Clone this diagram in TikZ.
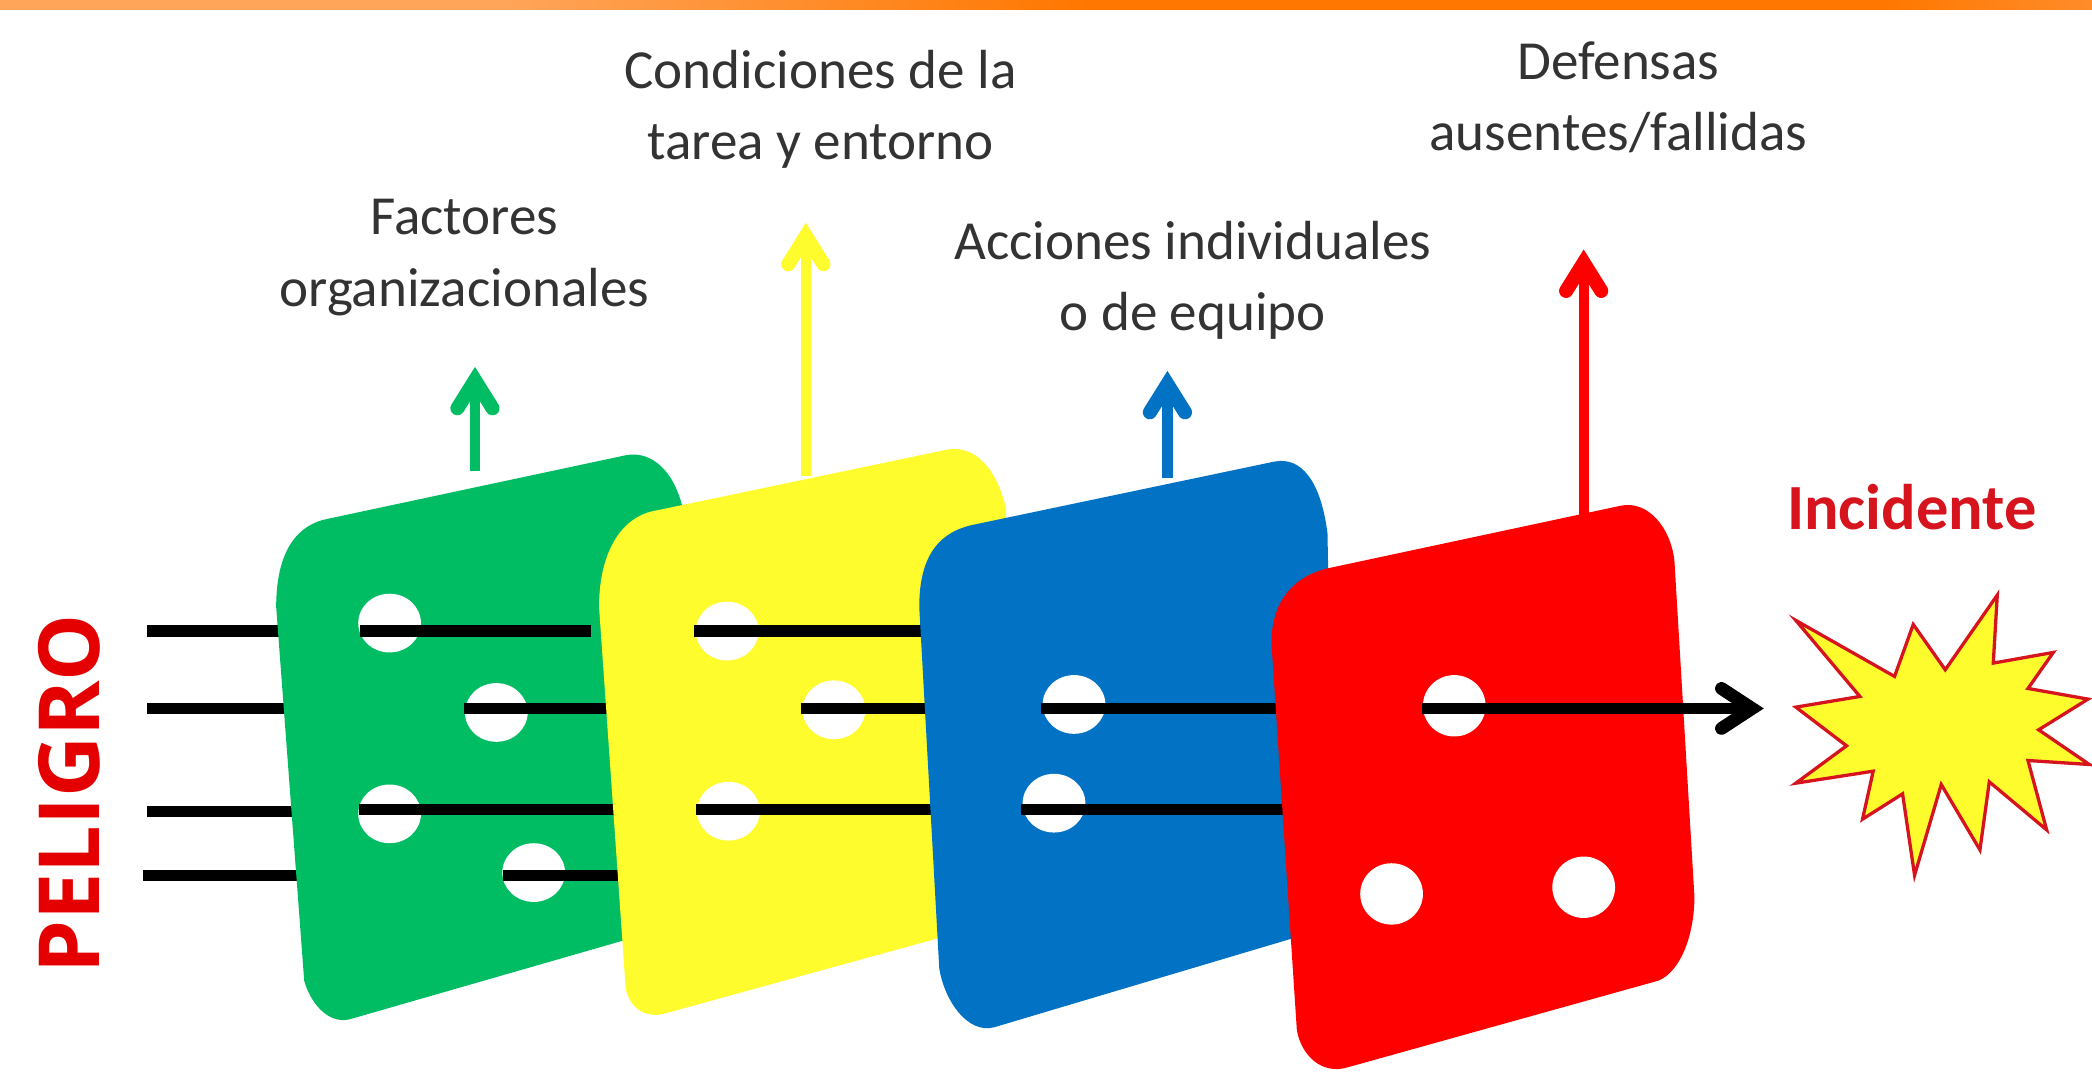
\documentclass[tikz,border=0pt]{standalone}
\usepackage{fontspec}
\setmainfont{Carlito}
\newfontfamily\hazardfont{Open Sans}
\usetikzlibrary{arrows.meta,shapes.geometric}
\definecolor{cardgreen}{HTML}{00BC63}
\definecolor{cardyellow}{HTML}{FFFC2E}
\definecolor{cardblue}{HTML}{0272C4}
\definecolor{cardred}{HTML}{FE0000}
\definecolor{labelred}{HTML}{D5141E}
\definecolor{barorange}{HTML}{FF7700}
\definecolor{barlight}{HTML}{FFA55A}
\definecolor{barend}{HTML}{FF8C2A}
\pgfdeclarehorizontalshading{topbar}{100bp}{color(0bp)=(barlight); color(37bp)=(barlight); color(51bp)=(barorange); color(70bp)=(barorange); color(75bp)=(barend); color(100bp)=(barend)}
\tikzset{
  hole/.style={ellipse,fill=white,minimum width=47*0.02cm,minimum height=44*0.02cm,inner sep=0pt},
  barline/.style={line width=4.8pt,black},
  uparrow/.style={line width=4.4pt,-{Straight Barb[length=12pt,width=15pt,line width=6pt,line cap=round]}},
  title/.style={align=center,text=black!80,font=\fontsize{23.5}{30.5}\selectfont}
}
\begin{document}
\begin{tikzpicture}[x=0.02cm,y=-0.02cm]
\useasboundingbox (0,0) rectangle (1568,805);
\shade[shading=topbar] (0,0) rectangle (1568,7);

% arrows above the cards
\coordinate (greenbase) at (356,353);
\coordinate (greentip) at (356,275);
\coordinate (yellowbase) at (604,357);
\coordinate (yellowtip) at (604,167);
\coordinate (bluebase) at (875,358);
\coordinate (bluetip) at (875,278);
\coordinate (redbase) at (1187,390);
\coordinate (redtip) at (1187,187);
\draw[uparrow,cardgreen] (greenbase) -- (greentip);
\draw[uparrow,cardyellow] (yellowbase) -- (yellowtip);
\draw[uparrow,cardblue] (bluebase) -- (bluetip);
\draw[uparrow,cardred] (redbase) -- (redtip);

% lines coming from the hazard
\foreach \name/\ya/\xa/\xb in {a/473/110/215,b/531/110/220,c/608/110/222,d/656/107/225}
  \draw[barline] (\xa,\ya) coordinate (start\name) -- (\xb,\ya) coordinate (end\name);

% green card
\fill[cardgreen] (207,455) .. controls (207,410) and (225,393) .. (245,389) -- (470,341) .. controls (490,338) and (505,355) .. (511,378) -- (520,690) -- (467,705) -- (262,764) .. controls (245,768) and (232,750) .. (228,735) -- cycle;
\node[hole] (g1) at (292,467) {};
\node[hole] (g2) at (372,534) {};
\node[hole] (g3) at (292,610) {};
\node[hole] (g4) at (400,654) {};
\draw[barline] (270,473) -- (443,473);
\draw[barline] (348,531) -- (460,531);
\draw[barline] (269,607) -- (465,607);
\draw[barline] (377,656) -- (470,656);

% yellow card
\fill[cardyellow] (449,455) .. controls (449,415) and (465,388) .. (490,383) -- (710,337) .. controls (733,333) and (748,355) .. (754,381) -- (760,690) -- (704,703) -- (497,760) .. controls (483,763) and (472,755) .. (469,741) -- cycle;
\node[hole] (y1) at (545,473) {};
\node[hole] (y2) at (625,532) {};
\node[hole] (y3) at (546,608) {};
\draw[barline] (520,473) -- (700,473);
\draw[barline] (600,531) -- (700,531);
\draw[barline] (522,607) -- (705,607);

% blue card
\fill[cardblue] (689,455) .. controls (689,415) and (705,398) .. (731,393) -- (955,346) .. controls (975,342) and (990,360) .. (995,400) -- (1000,694) -- (745,770) .. controls (725,775) and (708,750) .. (704,726) -- cycle;
\node[hole] (b1) at (805,528) {};
\node[hole] (b2) at (790,602) {};
\draw[barline] (780,531) -- (970,531);
\draw[barline] (765,607) -- (970,607);

% red card
\fill[cardred] (953,482) .. controls (953,450) and (970,432) .. (995,426) -- (1215,379) .. controls (1235,375) and (1252,395) .. (1255,420) -- (1270,672) .. controls (1270,700) and (1260,728) .. (1243,735) -- (1010,800) .. controls (990,806) and (975,790) .. (972,772) -- cycle;
\node[hole,minimum height=46*0.02cm] (r1) at (1090,529) {};
\node[hole,minimum height=46*0.02cm] (r2) at (1043,670) {};
\node[hole,minimum height=46*0.02cm] (r3) at (1187,665) {};
\coordinate (hitend) at (1322,531);
\draw[barline,-{Straight Barb[length=13pt,width=17pt,line width=5.5pt,line cap=round]}] (1066,531) -- (hitend);

% burst
\draw[labelred,line width=1.4pt,fill=cardyellow] (1346,465) -- (1420,507) -- (1434,468) -- (1458,502) -- (1497,446) -- (1494,497) -- (1539,489) -- (1520,516) -- (1565,524) -- (1528,547) -- (1566,573) -- (1520,570) -- (1534,622) -- (1491,586) -- (1484,637) -- (1455,588) -- (1435,656) -- (1426,595) -- (1396,614) -- (1404,578) -- (1346,587) -- (1384,559) -- (1346,530) -- (1394,522) -- cycle;

% labels
\node[title] (factores) at (348,193) {Factores\\organizacionales};
\node[title] (condiciones) at (615,82) {Condiciones de la\\tarea y entorno};
\node[title] (acciones) at (894,210) {Acciones individuales\\o de equipo};
\node[title] (defensas) at (1213,73) {Defensas\\ausentes/fallidas};
\node[text=labelred,font=\fontsize{27.5}{33}\selectfont\bfseries] (incidente) at (1433,380) {Incidente};
\node[rotate=90,text=cardred!90!black,font=\hazardfont\fontsize{36}{42}\selectfont\bfseries] (peligro) at (52,595) {PELIGRO};
\end{tikzpicture}
\end{document}
